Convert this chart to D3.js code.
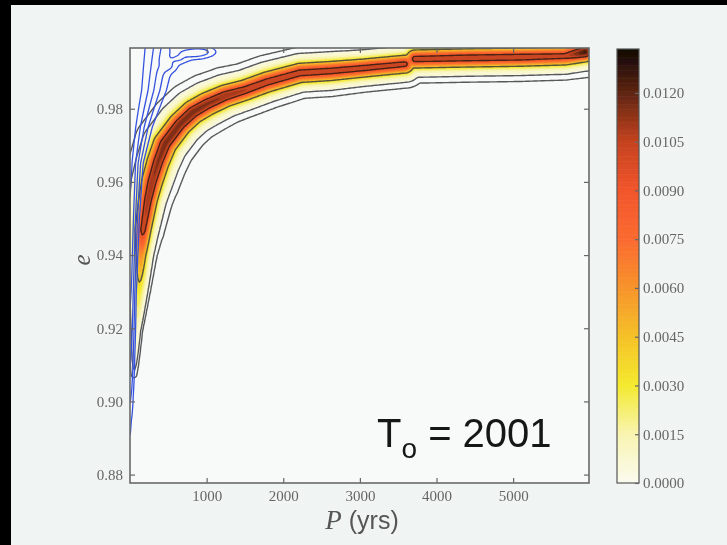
<!DOCTYPE html>
<meta charset="utf-8">
<style type="text/css">
    body { margin: 0; background: #f0f4f2; }
    .tick text { font-family: "Liberation Serif", serif; font-size: 15px; fill: #666; }
    .tick line { stroke: #666; stroke-width: 1.2; }
    .domain { display: none; }
    .frame { fill: none; stroke: #6a6a6a; stroke-width: 1.6; }
    .cline { fill: none; stroke-width: 1.4; stroke-opacity: 0.85; }
    .bline { fill: none; stroke: #3551e0; stroke-width: 1.3; }
</style>
<body>
</body>
<script src="https://d3js.org/d3.v7.min.js"></script>
<script>
// ridge of the posterior density: period (yrs), eccentricity, peak density, spread in e
var ridgeP = [52, 78, 117, 144, 170, 235, 287, 365, 457, 652, 822, 1005, 1240, 1501, 1788, 2218, 2610, 3041, 3589, 3654, 3719, 4437, 5089, 5677, 5938];
var ridgeE = [0.9072, 0.9195, 0.9305, 0.9400, 0.9469, 0.9551, 0.9600, 0.9654, 0.9704, 0.9758, 0.9791, 0.9813, 0.9835, 0.9851, 0.9873, 0.9898, 0.9903, 0.9911, 0.9922, 0.9929, 0.9936, 0.9939, 0.9941, 0.9944, 0.9955];
var ridgePeak = [0.0002, 0.0010, 0.0030, 0.0060, 0.0100, 0.0106, 0.0108, 0.0110, 0.0112, 0.0112, 0.0113, 0.0110, 0.0108, 0.0103, 0.0101, 0.0101, 0.0100, 0.0100, 0.0098, 0.0072, 0.0100, 0.0102, 0.0102, 0.0098, 0.0122];
var ridgeSpread = [0.0006, 0.0008, 0.0011, 0.0013, 0.0015, 0.0017, 0.0019, 0.0020, 0.0021, 0.0021, 0.0021, 0.0021, 0.0020, 0.0019, 0.0019, 0.0018, 0.0018, 0.0017, 0.0017, 0.0017, 0.0017, 0.0017, 0.0017, 0.0017, 0.0017];

// blue contours: strip along P = 0, amplitude and spread (yrs) against e
var blueE = [0.8777, 0.895, 0.91, 0.93, 0.95, 0.965, 0.975, 0.985, 0.992, 0.9966];
var blueAmp = [0, 0.08, 0.3, 0.55, 0.7, 0.8, 0.9, 1.0, 1.0, 1.0];
var blueSpread = [13, 26, 33, 39, 55, 75, 125, 200, 235, 260];
var bumpP = [820, 500, 640, 980];
var bumpE = [0.9952, 0.9916, 0.9934, 0.9957];
var bumpAmp = [0.2, 0.1, 0.1, 0.08];
var bumpSpreadP = [150, 80, 80, 110];
var bumpSpreadE = [0.0011, 0.0010, 0.0008, 0.0009];

var fillLevels = d3.range(0.0004, 0.0136, 0.0006);
var lineLevels = [0.0001, 0.0003, 0.0038, 0.0095];
var blueLevels = [0.06, 0.15, 0.3, 0.5, 0.75];

var xTicks = [1000, 2000, 3000, 4000, 5000];
var yTicks = [0.88, 0.90, 0.92, 0.94, 0.96, 0.98];
var cbTicks = [0, 0.0015, 0.0030, 0.0045, 0.0060, 0.0075, 0.0090, 0.0105, 0.0120];

var cmapStops = [0, 0.0015, 0.003, 0.0045, 0.006, 0.0075, 0.009, 0.0105, 0.012, 0.01335];
var cmapColors = ["#fbfbef", "#f8f4b0", "#f4ea2e", "#f5c128", "#f7932b", "#fb6a30", "#f2552c", "#c4421f", "#5e2512", "#0e0604"];

var W = 727, H = 545;
var svg = d3.select("body").append("svg").attr("width", W).attr("height", H);

var defs = svg.append("defs");
defs.append("clipPath").attr("id", "clip").append("rect")
    .attr("x", 130).attr("y", 48).attr("width", 459).attr("height", 435);
defs.append("filter").attr("id", "soft").append("feGaussianBlur").attr("stdDeviation", 0.5);

// photo border
svg.append("rect").attr("width", W).attr("height", 5).attr("fill", "#000");
svg.append("rect").attr("width", 11).attr("height", H).attr("fill", "#000");

var x = d3.scaleLinear().domain([0, 5990]).range([130, 589]);
var y = d3.scaleLinear().domain([0.8777, 0.9966]).range([483, 48]);
var cmap = d3.scaleLinear().domain(cmapStops).range(cmapColors).clamp(true);

var g = svg.append("g").attr("filter", "url(#soft)");
g.append("rect").attr("x", 130).attr("y", 48).attr("width", 459).attr("height", 435).attr("fill", "#f7faf8");

// density grids in pixel space
var c = 1.5, gx0 = 110, gy0 = 26;
var n = Math.ceil((600 - gx0) / c), m = Math.ceil((500 - gy0) / c);
var rx = ridgeP.map(x), ry = ridgeE.map(y);
var pxPerE = Math.abs(y(1) - y(0));
var pxPerYr = x(1) - x(0);
var rs = ridgeSpread.map(function (s) { return s * pxPerE; });
var ampAt = d3.scaleLinear().domain(blueE).range(blueAmp).clamp(true);
var spreadAt = d3.scaleLinear().domain(blueE).range(blueSpread).clamp(true);
var x0 = x(0);

var field = new Float64Array(n * m), blue = new Float64Array(n * m);
for (var j = 0; j < m; j++) {
    var py = gy0 + (j + 0.5) * c;
    var e = y.invert(py);
    var amp = ampAt(e), sb = spreadAt(e) * pxPerYr;
    for (var i = 0; i < n; i++) {
        var px = gx0 + (i + 0.5) * c;
        var best = 0;
        for (var k = 0; k < rx.length - 1; k++) {
            var dx = rx[k + 1] - rx[k], dy = ry[k + 1] - ry[k];
            var t = ((px - rx[k]) * dx + (py - ry[k]) * dy) / (dx * dx + dy * dy);
            t = Math.max(0, Math.min(1, t));
            var qx = rx[k] + t * dx - px, qy = ry[k] + t * dy - py;
            var d2 = qx * qx + qy * qy;
            var pk = ridgePeak[k] + t * (ridgePeak[k + 1] - ridgePeak[k]);
            var s = rs[k] + t * (rs[k + 1] - rs[k]);
            var st = s * 2.4;
            var v = pk * Math.exp(-d2 / (2 * s * s)) + 0.035 * pk * Math.exp(-d2 / (2 * st * st));
            if (v > best) best = v;
        }
        field[i + j * n] = best;

        var bv = amp * Math.exp(-(px - x0) * (px - x0) / (2 * sb * sb));
        for (var b = 0; b < bumpP.length; b++) {
            var bx = (px - x(bumpP[b])) / (bumpSpreadP[b] * pxPerYr);
            var by = (py - y(bumpE[b])) / (bumpSpreadE[b] * pxPerE);
            bv += bumpAmp[b] * Math.exp(-(bx * bx + by * by) / 2);
        }
        blue[i + j * n] = bv;
    }
}

var path = d3.geoPath(d3.geoTransform({
    point: function (gx, gy) { this.stream.point(gx0 + gx * c, gy0 + gy * c); }
}));
var contours = d3.contours().size([n, m]);
var step = fillLevels[1] - fillLevels[0];

var plot = g.append("g").attr("clip-path", "url(#clip)");

plot.selectAll(".band")
    .data(contours.thresholds(fillLevels)(field))
    .enter().append("path")
    .attr("class", "band")
    .attr("d", path)
    .attr("fill", function (d) { return cmap(d.value + step / 2); });

plot.selectAll(".cline")
    .data(contours.thresholds(lineLevels)(field))
    .enter().append("path")
    .attr("class", "cline")
    .attr("d", path)
    .attr("stroke", function (d) { return d.value > 0.009 ? "#2a1a10" : "#3c3c3c"; });

plot.selectAll(".bline")
    .data(contours.thresholds(blueLevels)(blue))
    .enter().append("path")
    .attr("class", "bline")
    .attr("d", path);

// axes, ticks inward on all four sides
g.append("g").attr("transform", "translate(0,483)")
    .call(d3.axisBottom(x).tickValues(xTicks).tickSizeInner(-5).tickSizeOuter(0).tickPadding(7).tickFormat(d3.format("d")));
g.append("g").attr("transform", "translate(0,48)")
    .call(d3.axisTop(x).tickValues(xTicks).tickSizeInner(-5).tickSizeOuter(0).tickFormat(""));
g.append("g").attr("transform", "translate(130,0)")
    .call(d3.axisLeft(y).tickValues(yTicks).tickSizeInner(-5).tickSizeOuter(0).tickPadding(7).tickFormat(d3.format(".2f")));
g.append("g").attr("transform", "translate(589,0)")
    .call(d3.axisRight(y).tickValues(yTicks).tickSizeInner(-5).tickSizeOuter(0).tickFormat(""));

g.append("rect").attr("class", "frame")
    .attr("x", 130).attr("y", 48).attr("width", 459).attr("height", 435);

// colorbar
var cb = d3.scaleLinear().domain([0, 0.01335]).range([483, 49]);
var cbStep = 0.00005;
g.selectAll(".cbstep")
    .data(d3.range(0, 0.01335, cbStep))
    .enter().append("rect")
    .attr("x", 617).attr("width", 22)
    .attr("y", function (d) { return cb(Math.min(d + cbStep, 0.01335)); })
    .attr("height", function (d) { return cb(d) - cb(Math.min(d + cbStep, 0.01335)) + 0.6; })
    .attr("fill", function (d) { return cmap(d); });
g.append("rect").attr("x", 617).attr("y", 49).attr("width", 22).attr("height", 434)
    .attr("fill", "none").attr("stroke", "#555").attr("stroke-width", 1.2);
g.append("g").attr("transform", "translate(639,0)")
    .call(d3.axisRight(cb).tickValues(cbTicks).tickSizeInner(-4).tickSizeOuter(0).tickPadding(4).tickFormat(d3.format(".4f")));

// axis labels
g.append("text")
    .attr("transform", "translate(90,260) rotate(-90)")
    .attr("text-anchor", "middle")
    .style("font-family", "Liberation Serif, serif").style("font-style", "italic")
    .style("font-size", "25px").style("fill", "#555")
    .text("e");

var xl = g.append("text")
    .attr("x", 362).attr("y", 529)
    .attr("text-anchor", "middle")
    .style("fill", "#555");
xl.append("tspan").style("font-family", "Liberation Serif, serif").style("font-style", "italic").style("font-size", "27px").text("P");
xl.append("tspan").style("font-family", "Liberation Sans, sans-serif").style("font-size", "25px").text(" (yrs)");

// epoch annotation
var ann = g.append("text")
    .attr("x", 377).attr("y", 447)
    .style("font-family", "Liberation Sans, Arial, sans-serif")
    .style("font-size", "40px").style("fill", "#151515");
ann.append("tspan").text("T");
ann.append("tspan").attr("dy", 11).style("font-size", "28px").text("o");
ann.append("tspan").attr("dy", -11).text(" = 2001");
</script>
